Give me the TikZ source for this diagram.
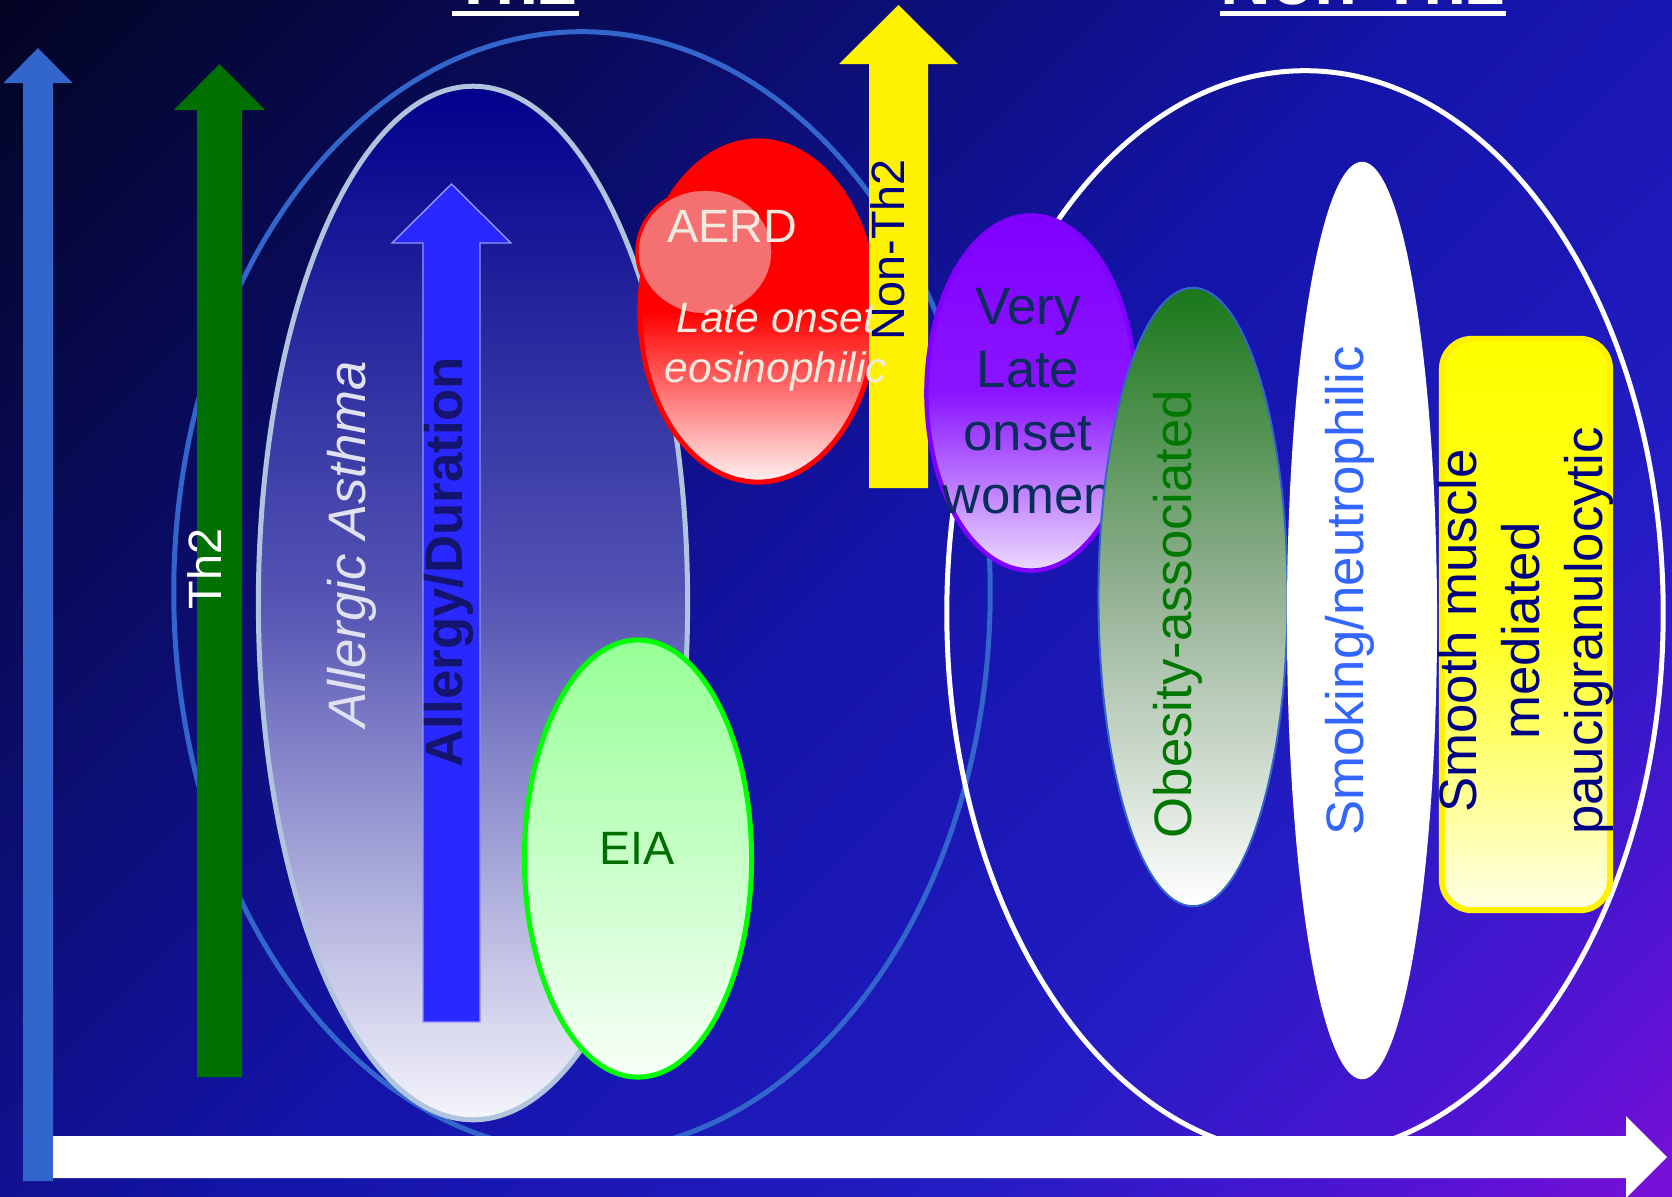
\documentclass[tikz,border=0pt]{standalone}
\usepackage{fontspec}
\setmainfont{Liberation Sans}
\usepackage{tikz}
\usetikzlibrary{shapes.geometric}

\definecolor{bgA}{RGB}{3,4,35}
\definecolor{bgB}{RGB}{10,12,100}
\definecolor{bgC}{RGB}{20,20,168}
\definecolor{bgD}{RGB}{35,28,195}
\definecolor{bgE}{RGB}{80,20,210}
\definecolor{bgF}{RGB}{120,15,215}
\definecolor{ringblue}{RGB}{51,102,204}
\definecolor{thgreen}{RGB}{0,112,0}
\definecolor{asthmaring}{RGB}{176,196,222}
\definecolor{asthmatop}{RGB}{0,0,140}
\definecolor{asthmamid}{RGB}{85,85,180}
\definecolor{asthmabot}{RGB}{245,245,252}
\definecolor{asthmatxt}{RGB}{225,225,242}
\definecolor{durblue}{RGB}{40,40,255}
\definecolor{durline}{RGB}{150,150,255}
\definecolor{durtxt}{RGB}{20,20,110}
\definecolor{eiaring}{RGB}{0,255,0}
\definecolor{eiatop}{RGB}{150,255,150}
\definecolor{eiabot}{RGB}{248,255,248}
\definecolor{eiatxt}{RGB}{0,110,0}
\definecolor{redbot}{RGB}{255,242,242}
\definecolor{aerdfill}{RGB}{245,112,112}
\definecolor{cream}{RGB}{242,234,222}
\definecolor{navytxt}{RGB}{0,0,130}
\definecolor{violetfill}{RGB}{128,0,255}
\definecolor{violetbot}{RGB}{236,218,255}
\definecolor{tealtxt}{RGB}{10,45,90}
\definecolor{obtop}{RGB}{25,120,25}
\definecolor{obmid}{RGB}{150,178,150}
\definecolor{obtxt}{RGB}{0,120,0}
\definecolor{smoketxt}{RGB}{51,102,255}
\definecolor{boxbot}{RGB}{255,255,230}

\pgfdeclarehorizontalshading{bgdiag}{100bp}{color(0bp)=(bgA); color(14.64bp)=(bgA); color(32.3bp)=(bgB); color(50bp)=(bgC); color(67.7bp)=(bgD); color(78.3bp)=(bgE); color(85.36bp)=(bgF); color(100bp)=(bgF)}

\begin{document}
\begin{tikzpicture}[
  x=0.01cm, y=-0.01cm,
  blob/.style={ellipse, inner sep=0pt},
  ring/.style={ellipse, inner sep=0pt, line width=0.05cm},
  lbl/.style={inner sep=0pt, align=center, font=\fontsize{15}{17.9}\selectfont},
  smalllbl/.style={inner sep=0pt, font=\fontsize{13.3}{16}\selectfont},
  title/.style={inner sep=0pt, anchor=base, text=white, font=\fontsize{20}{24}\selectfont\bfseries}
]
\useasboundingbox (0,0) rectangle (1672,1196);
\shade[shading=bgdiag, shading angle=-45] (0,0) rectangle (1672,1196);

% titles, cut by the top edge
\node[title] (th2title) at (515.5,4) {Th2};
\node[title] (nonth2title) at (1363,4) {Non-Th2};
\draw[white, line width=0.05cm] ([yshift=-2.7pt]th2title.base west) -- ([yshift=-2.7pt]th2title.base east);
\draw[white, line width=0.05cm] ([yshift=-2.7pt]nonth2title.base west) -- ([yshift=-2.7pt]nonth2title.base east);

% the two big groups
\node[ring, draw=ringblue, minimum width=8.16cm, minimum height=11.2cm] (th2ring) at (582,592) {};
\node[ring, draw=white, minimum width=7.16cm, minimum height=10.84cm] (nonth2ring) at (1305,613) {};

% vertical arrows on the left
\fill[ringblue] (23,1181) -- (23,83) -- (3.5,83) -- (38,48) -- (72.5,83) -- (53,83) -- (53,1181) -- cycle;
\fill[thgreen] (197,1077) -- (197,110) -- (174,110) -- (219.5,64) -- (265,110) -- (242,110) -- (242,1077) -- cycle;
\node[smalllbl, rotate=90, text=white] (th2lbl) at (205,569) {Th2};

% Th2 phenotypes
\node[blob, draw=asthmaring, line width=0.05cm, top color=asthmatop, bottom color=asthmabot, middle color=asthmamid, minimum width=4.29cm, minimum height=10.33cm] (asthma) at (473,603) {};
\node[lbl, rotate=90, text=asthmatxt, font=\fontsize{15}{18}\selectfont\itshape] (asthmalbl) at (352,544) {Allergic Asthma};
\filldraw[fill=durblue, draw=durline, line width=0.4pt] (423,1022) -- (423,243) -- (392,243) -- (451.5,184) -- (511,243) -- (480,243) -- (480,1022) -- cycle;
\node[lbl, rotate=90, text=durtxt, font=\fontsize{15}{18}\selectfont\bfseries] (durlbl) at (449,562) {Allergy/Duration};

\node[blob, draw=eiaring, line width=0.05cm, top color=eiatop, bottom color=eiabot, minimum width=2.27cm, minimum height=4.37cm] (eia) at (638,858.5) {};
\node[smalllbl, text=eiatxt] (eialbl) at (637,848) {EIA};

\node[blob, draw=red, line width=0.05cm, top color=red, bottom color=redbot, middle color=red, minimum width=2.36cm, minimum height=3.41cm] (lateonset) at (758,311.5) {};
\node[blob, draw=red, line width=0.035cm, fill=aerdfill, minimum width=1.36cm, minimum height=1.26cm] (aerd) at (705,252) {};
\node[smalllbl, text=cream] (aerdlbl) at (732,226) {AERD};

% Non-Th2 arrow
\fill[yellow] (869,488) -- (869,64) -- (839,64) -- (898.5,5) -- (958,64) -- (928,64) -- (928,488) -- cycle;
\node[inner sep=0pt, align=center, text=cream, font=\fontsize{12.1}{14.2}\selectfont\itshape] (latelbl) at (776,347) {Late onset\\eosinophilic};
\node[smalllbl, rotate=90, text=navytxt] (nonth2lbl) at (888,250) {Non-Th2};

% Non-Th2 phenotypes
\node[blob, draw=violetfill, line width=0.045cm, top color=violetfill, bottom color=violetbot, middle color=violetfill!92!white, minimum width=2.09cm, minimum height=3.55cm] (verylate) at (1031,393) {};
\node[lbl, text=tealtxt] (verylatelbl) at (1028,401) {Very\\Late\\onset\\women};

\node[blob, draw=ringblue, line width=0.02cm, top color=obtop, bottom color=white, middle color=obmid, minimum width=1.89cm, minimum height=6.18cm] (obesity) at (1193,597) {};
\node[lbl, rotate=90, text=obtxt] (obesitylbl) at (1178,614) {Obesity-associated};

\node[blob, fill=white, minimum width=1.5cm, minimum height=9.17cm] (smoking) at (1362,620.5) {};
\node[lbl, rotate=90, text=smoketxt] (smokinglbl) at (1350,591) {Smoking/neutrophilic};

\node[rectangle, rounded corners=0.3cm, draw=yellow, line width=0.06cm, top color=yellow, bottom color=boxbot, middle color=yellow!90!white, minimum width=1.68cm, minimum height=5.71cm, inner sep=0pt] (smoothbox) at (1526,624.5) {};
\node[lbl, rotate=90, text=navytxt] (smoothlbl) at (1526,631) {Smooth muscle\\mediated\\paucigranulocytic};

% horizontal axis arrow
\fill[white] (53,1136) -- (1626,1136) -- (1626,1116) -- (1667,1157) -- (1626,1198) -- (1626,1178) -- (53,1178) -- cycle;
\end{tikzpicture}
\end{document}
